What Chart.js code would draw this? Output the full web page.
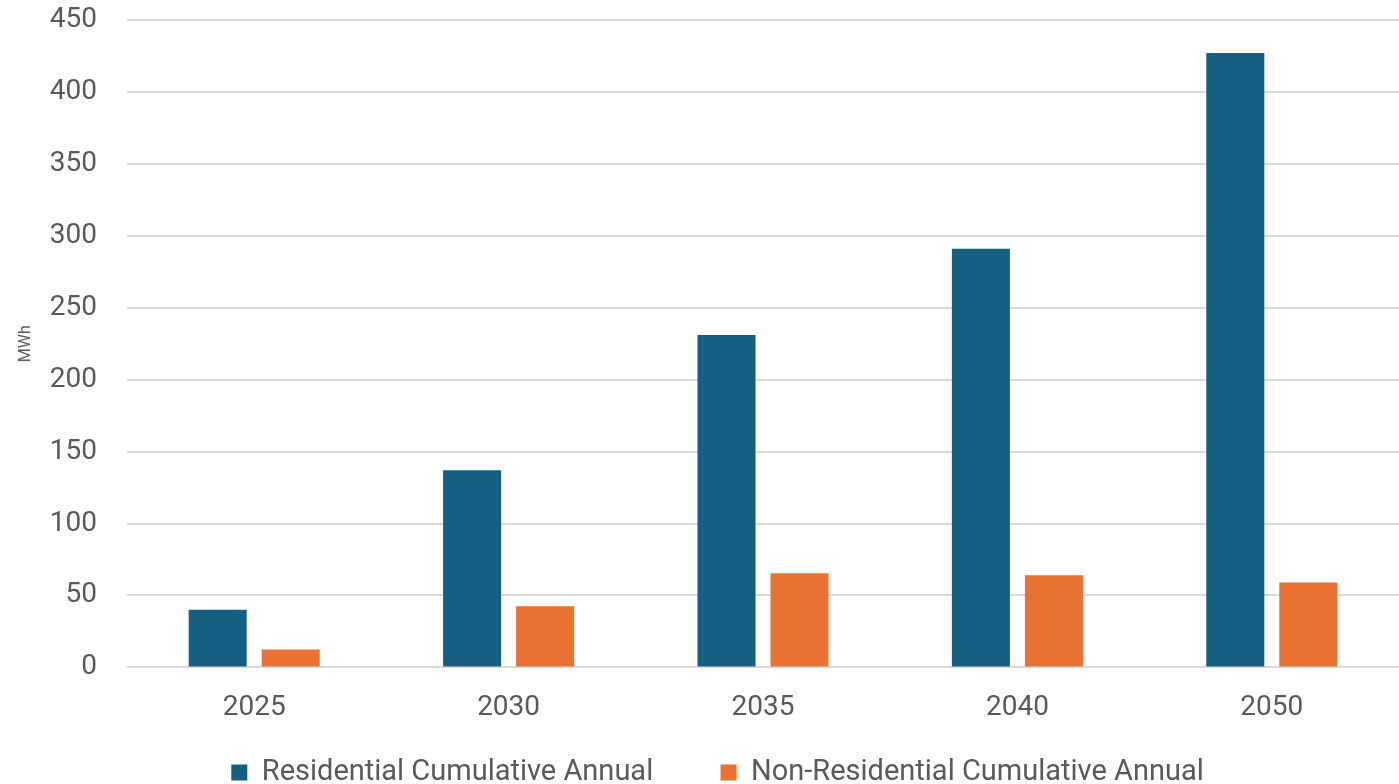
<!DOCTYPE html>
<html>
<head>
<meta charset="utf-8">
<script src="https://cdn.jsdelivr.net/npm/chart.js@4/dist/chart.umd.min.js"></script>
<style>
  html, body { margin: 0; padding: 0; background: #fff; overflow: hidden; }
  #wrap { width: 1399px; height: 797px; position: relative; }
</style>
</head>
<body>
<div id="wrap"><canvas id="mwhChart"></canvas></div>
<script>
const years = ['2025', '2030', '2035', '2040', '2050'];
const residential = [40, 137, 231, 291, 427];
const nonResidential = [12.5, 42.5, 65.5, 64, 59];

const font = "Roboto, 'Liberation Sans', sans-serif";
const grey = '#595959';

const ctx = document.getElementById('mwhChart').getContext('2d');
new Chart(ctx, {
  type: 'bar',
  data: {
    labels: years,
    datasets: [
      {
        label: 'Residential Cumulative Annual',
        data: residential,
        backgroundColor: '#156082',
        categoryPercentage: 0.574,
        barPercentage: 0.795,
      },
      {
        label: 'Non-Residential Cumulative Annual',
        data: nonResidential,
        backgroundColor: '#E97132',
        categoryPercentage: 0.574,
        barPercentage: 0.795,
      },
    ],
  },
  options: {
    responsive: true,
    maintainAspectRatio: false,
    animation: false,
    layout: { padding: { top: 20, right: 0, left: 36, bottom: 0 } },
    plugins: {
      tooltip: { enabled: false },
      legend: {
        position: 'bottom',
        labels: {
          color: grey,
          font: { family: font, size: 29 },
          boxWidth: 16,
          boxHeight: 16,
          padding: 17,
          // extra gap after the first entry
          generateLabels: function (chart) {
            const items = Chart.defaults.plugins.legend.labels.generateLabels(chart);
            items[0].text = items[0].text + '       ';
            return items;
          },
        },
      },
    },
    scales: {
      x: {
        grid: { display: false },
        border: { display: false },
        ticks: { color: grey, font: { family: font, size: 28 }, padding: 16 },
      },
      y: {
        min: 0,
        max: 450,
        afterFit: function (scale) { scale.width = 91; },
        border: { display: false },
        grid: { color: '#D9D9D9', lineWidth: 2, drawTicks: true, tickLength: 30, tickColor: 'rgba(0,0,0,0)' },
        ticks: { stepSize: 50, color: grey, font: { family: font, size: 28 }, padding: 0 },
        title: { display: true, text: 'MWh', color: grey, font: { family: font, size: 16 }, padding: { top: -20, bottom: 0 } },
      },
    },
  },
});
</script>
</body>
</html>
